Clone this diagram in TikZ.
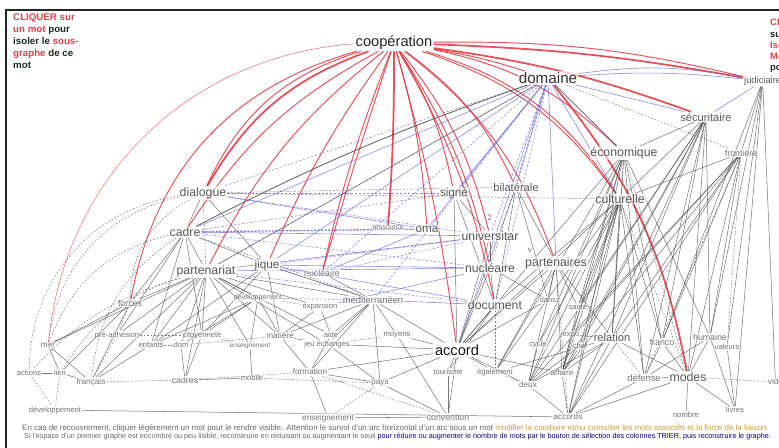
\documentclass[tikz,border=0pt]{standalone}
\usepackage{fontspec}
\setmainfont{Liberation Sans}
\definecolor{lred}{HTML}{E3303C}
\definecolor{lblue}{HTML}{6464D6}
\definecolor{lgray}{HTML}{4A4A4A}
\definecolor{txtred}{HTML}{E0404E}
\definecolor{txtdark}{HTML}{1E2A1E}
\pgfdeclarelayer{edges}
\pgfsetlayers{edges,main}
\tikzset{
  fs/.style={font=\fontsize{#1}{#1}\selectfont},
  lab/.style={text=black!65, fill=white, fill opacity=0.6, text opacity=1, inner sep=0.8pt},
  biglab/.style={text=black!80, fill=white, fill opacity=0.7, text opacity=1, inner sep=1pt},
  tiny/.style={text=black!55, inner sep=0.6pt, fill=white, fill opacity=0.4, text opacity=1},
  rl/.style={draw=lred, line width=0.8pt, draw opacity=0.85},
  rlt/.style={draw=lred, line width=1.5pt, draw opacity=0.85},
  rlf/.style={draw=lred, line width=0.45pt, draw opacity=0.7},
  bl/.style={draw=lblue, line width=0.5pt, draw opacity=0.75},
  bld/.style={draw=lblue, line width=0.5pt, draw opacity=0.75, dashed, dash pattern=on 2pt off 1.5pt},
  blt/.style={draw=lblue, line width=1.1pt, draw opacity=0.8, dash pattern=on 2pt off 1pt},
  gl/.style={draw=lgray, line width=0.45pt, draw opacity=0.75},
  glt/.style={draw=lgray, line width=0.8pt, draw opacity=0.8},
  gld/.style={draw=lgray, line width=0.45pt, draw opacity=0.7, dash pattern=on 1.5pt off 1.5pt},
}
\begin{document}
\begin{tikzpicture}[x=0.03cm, y=-0.03cm]
\useasboundingbox (0,0) rectangle (779,448);
\begin{scope}
\clip (0,0) rectangle (779,448);
% outer frame
\draw[line width=1.2pt, black!85] (6,10) rectangle (800,470);

% ---- words ----
\node[biglab, fs=12.5, text=black!85] (coop) at (394,43) {coopération};
\node[biglab, fs=13] (dom) at (548,78) {domaine};
\node[lab, fs=8, anchor=west] (judic) at (743,81) {judiciaire};
\node[lab, fs=9.5] (secu) at (706,117) {sécuritaire};
\node[lab, fs=10.5] (econ) at (624,153) {économique};
\node[tiny, fs=7.5] (front) at (741,153) {frontière};
\node[lab, fs=10.5] (dial) at (203,193) {dialogue};
\node[lab, fs=10] (signe) at (454,193) {signé};
\node[lab, fs=9.5] (bilat) at (516,187) {bilatérale};
\node[lab, fs=10.5] (cult) at (620,199) {culturelle};
\node[tiny, fs=7] (two) at (490,218) {2};
\node[tiny, fs=6] (ressrc) at (388,228) {ressource};
\node[lab, fs=10] (oma) at (427,229) {oma};
\node[lab, fs=10.5] (cadre) at (185,232) {cadre};
\node[lab, fs=10.5] (univ) at (490,236) {universitar};
\node[tiny, fs=7] (vv) at (530,250) {v};
\node[lab, fs=10.5] (part) at (206,271) {partenariat};
\node[lab, fs=10] (jique) at (267,265) {jique};
\node[lab, fs=10.5] (nucl) at (490,268) {nucléaire};
\node[lab, fs=10.5] (parts) at (556,263) {partenaires};
\node[tiny, fs=7.5] (milit) at (322,273) {nucléaire};
\node[tiny, fs=6] (dev) at (258,298) {développement};
\node[tiny, fs=8] (medit) at (373,300) {méditerranéen};
\node[tiny, fs=6.5] (expans) at (320,307) {expansion};
\node[tiny, fs=7.5] (forces) at (130,303) {forces};
\node[tiny, fs=6.5] (dans) at (548,300) {dans};
\node[tiny, fs=6.5] (sante) at (578,307) {santé};
\node[lab, fs=10.5] (doc) at (495,305) {document};
\node[tiny, fs=6.5] (preadh) at (117,335) {pré-adhésion};
\node[tiny, fs=6.5] (citoy) at (202,335) {citoyenneté};
\node[tiny, fs=7] (matiere) at (280,336) {matière};
\node[tiny, fs=6.5] (aide) at (331,335) {aide};
\node[tiny, fs=6.5] (moyens) at (397,335) {moyens};
\node[tiny, fs=6.5] (expo) at (571,335) {expo};
\node[lab, fs=9.5] (relation) at (612,338) {relation};
\node[tiny, fs=7.5] (franco) at (662,342) {franco};
\node[tiny, fs=7.5] (humaine) at (710,337) {humaine};
\node[tiny, fs=7] (mer) at (48,345) {mer};
\node[tiny, fs=6.5] (enfants) at (151,345) {enfants};
\node[tiny, fs=6.5] (domw) at (181,345) {dom};
\node[tiny, fs=5.5] (enseig) at (250,346) {enseignement};
\node[tiny, fs=6.5] (jeuech) at (327,344) {jeu échanges};
\node[tiny, fs=6.5] (cycle) at (538,345) {cycle};
\node[tiny, fs=6.5] (chef) at (580,346) {chef};
\node[tiny, fs=6.5] (valeurs) at (727,347) {valeurs};
\node[fs=12.5, text=black!90, fill=white, inner sep=1.5pt] (accord) at (457,350) {accord};
\node[tiny, fs=6.5] (actions) at (29,373) {actions};
\node[tiny, fs=6.5] (lien) at (60,373) {lien};
\node[tiny, fs=7] (formation) at (310,372) {formation};
\node[tiny, fs=6.5] (tourisme) at (448,372) {tourisme};
\node[tiny, fs=6.5] (egal) at (495,372) {également};
\node[tiny, fs=7] (affaire) at (562,373) {affaire};
\node[lab, fs=10.5] (modes) at (688,377) {modes};
\node[tiny, fs=8] (defense) at (644,378) {défense};
\node[tiny, fs=7.5] (cadres) at (185,380) {cadres};
\node[tiny, fs=6.5] (mobile) at (252,378) {mobile};
\node[tiny, fs=7] (francais) at (91,382) {français};
\node[tiny, fs=7] (pays) at (380,383) {pays};
\node[tiny, fs=7] (deux) at (528,385) {deux};
\node[tiny, fs=7, anchor=west] (vide) at (767,382) {vidé};
\node[tiny, fs=6.5] (devt) at (55,410) {développement};
\node[tiny, fs=6.5] (livres) at (735,410) {livres};
\node[tiny, fs=6.5] (nombre) at (686,415) {nombre};
\node[tiny, fs=7] (accords) at (568,417) {accords};
\node[tiny, fs=7.5] (convention) at (448,417) {convention};
\node[tiny, fs=7] (enseigb) at (328,418) {enseignement};

% ---- instructions ----
\node[anchor=north west, align=left, font=\bfseries\fontsize{8.3}{10.4}\selectfont, inner sep=0pt] (help) at (13,13)
  {\textcolor{txtred}{CLIQUER sur}\\
   \textcolor{txtred}{un mot} \textcolor{txtdark}{pour}\\
   \textcolor{txtdark}{isoler le} \textcolor{txtred}{sous-}\\
   \textcolor{txtred}{graphe} \textcolor{txtdark}{de ce}\\
   \textcolor{txtdark}{mot}};
\node[anchor=north west, align=left, font=\bfseries\fontsize{8}{9.6}\selectfont, inner sep=0pt] (helpb) at (770,19)
  {\textcolor{txtred}{CLIQUER}\\
   \textcolor{txtdark}{sur un}\\
   \textcolor{txtred}{Isoler}\\
   \textcolor{txtred}{Mot}\\
   \textcolor{txtdark}{pour}};
\node[anchor=west, inner sep=0pt, text=black!60] (notea) at (22,428)
  {\resizebox{22.4cm}{!}{\fontsize{5.6}{6}\selectfont En cas de recouvrement, cliquer légèrement un mot pour le rendre visible. Attention le survol d'un arc horizontal d'un arc sous un mot \textcolor{brown!80!yellow}{modifier la courbure et/ou consulter les mots associés et la force de la liaison.}}};
\node[anchor=west, inner sep=0pt, text=black!60] (noteb) at (24,437)
  {\resizebox{22.4cm}{!}{\fontsize{5.6}{6}\selectfont Si l'espace d'un premier graphe est encombré ou peu lisible, reconstruire en réduisant ou augmentant le seuil \textcolor{blue!50!black}{pour réduire ou augmenter le nombre de mots par le bouton de sélection des colonnes TRIER, puis reconstruire le graphe.}}};

\begin{pgfonlayer}{edges}
% red links of coopération, bending to the left
\draw[rlf] (coop) to[bend right=40] (mer);
\draw[rl] (coop) to[bend right=32] (forces);
\draw[rlt] (coop) to[bend right=20] (dial);
\draw[rl] (coop) to[bend right=24] (dial);
\draw[rl] (coop) to[bend right=14] (cadre);
\draw[rl] (coop) to[bend right=12] (part);
\draw[rl] (coop) to[bend right=6] (jique);
\draw[rl] (coop) to[bend right=4] (milit);
\draw[rl] (coop) to[bend right=1] (milit);
\draw[rlt] (coop) to[bend left=2] (ressrc);
% red links of coopération, bending to the right
\foreach \a/\c in {signe/10, oma/6, univ/12, bilat/14, nucl/10, parts/16, cult/18, econ/16, doc/9, accord/4}
  \draw[rl] (coop) to[bend left=\c] (\a);
\draw[rlt] (coop) to[bend left=6] (secu);
\draw[rlt] (coop) to[bend left=4] (judic);
\draw[rl] (coop) to[bend left=7] (judic);
\draw[rl] (coop) to[bend left=4] (dom);
\draw[rlt] (dom) to[bend left=14] (modes);
\draw[rl] (coop) to[bend left=20] (cult);

% blue links of domaine
\foreach \a in {cadre, signe, bilat, parts, cult, econ, secu, accord, jique, oma}
  \draw[bl] (dom) -- (\a);
\foreach \a in {part, univ, nucl, doc, milit, medit, dial}
  \draw[bld] (dom) -- (\a);
\draw[bl] (dom) to[bend left=5] (judic);
\draw[bl] (dom) to[bend left=9] (judic);
\draw[glt] (dom) to[bend right=4] (cadre);
\draw[gl] (dom) -- (part);
\draw[gld] (dom) -- (front);
\draw[gl] (dom) -- (econ);

% blue links among the middle words
\draw[blt] (cadre) -- (oma);
\foreach \a/\b in {cadre/univ, part/nucl, jique/nucl, medit/doc, dial/oma, expans/nucl, part/univ, milit/oma, jique/doc, judic/secu}
  \draw[bl] (\a) -- (\b);
\foreach \a/\b in {dial/signe, part/doc, jique/univ, dev/medit, milit/univ, cadre/nucl, jique/medit, dial/univ, cadre/signe}
  \draw[bld] (\a) -- (\b);

% grey network of the right side
\foreach \a/\b in {econ/relation, econ/franco, econ/defense, econ/affaire, econ/humaine, econ/accord,
  cult/relation, cult/defense, cult/affaire, cult/accords, cult/franco, cult/expo, cult/chef, cult/accord, cult/doc,
  secu/franco, secu/humaine, secu/modes, secu/relation, secu/defense, secu/cult, secu/econ,
  front/humaine, front/relation, front/modes, front/franco, front/cult,
  judic/valeurs, judic/humaine, judic/front,
  parts/relation, parts/affaire, parts/accord, parts/sante, parts/dans,
  bilat/doc, bilat/parts, bilat/accord, signe/accord, signe/doc, signe/univ,
  univ/accord, univ/nucl, nucl/doc, nucl/accord, nucl/dans, doc/accord, doc/tourisme,
  accord/moyens, accord/pays, accord/convention, accord/tourisme, accord/egal, accord/deux, accord/affaire, accord/jeuech,
  relation/accords, relation/affaire, relation/modes, modes/nombre, modes/livres, modes/defense, modes/accords,
  humaine/livres, humaine/modes, valeurs/livres, affaire/accords, deux/accords, defense/accords,
  expo/relation, chef/affaire, cycle/deux, econ/deux, front/affaire, secu/deux,
  secu/affaire, secu/accords, front/accords, front/deux, econ/accords, cult/deux, cult/egal, econ/egal,
  secu/chef, front/expo, judic/franco, humaine/defense, franco/defense, franco/modes, relation/deux,
  relation/egal, expo/affaire, chef/deux, parts/deux, parts/egal, dans/accord, sante/affaire,
  cult/sante, econ/sante, bilat/dans, secu/sante, cult/cycle, econ/cycle}
  \draw[gl] (\a) -- (\b);
\draw[gl] (judic) -- (vide);
\draw[gl] (judic) -- (livres);
\foreach \a/\b in {front/defense, front/valeurs, cult/modes, econ/modes, relation/defense, egal/deux, modes/vide, doc/egal, parts/accords, econ/relation}
  \draw[gld] (\a) -- (\b);

% grey network of the left side
\foreach \a/\b in {part/forces, part/preadh, part/enfants, part/domw, part/citoy, part/matiere, part/cadres, part/dev,
  part/expans, part/medit, dial/cadre, dial/jique, cadre/part, cadre/jique, cadre/forces,
  medit/accord, medit/matiere, medit/moyens, medit/aide, dev/matiere, dev/enseig, milit/medit, jique/medit,
  forces/mer, actions/lien, mer/lien, devt/accords, enseigb/convention, formation/pays, cadres/mobile,
  formation/matiere, formation/enseigb, pays/convention, tourisme/convention, accord/formation,
  citoy/cadres, domw/cadres, enfants/francais, jeuech/pays, aide/formation, moyens/convention,
  lien/francais, mer/francais, enseig/mobile, matiere/jeuech,
  part/mer, part/francais, part/enseig, part/jeuech, part/aide, forces/francais, forces/lien,
  dev/citoy, dev/domw, dev/enfants, jique/matiere, jique/citoy, jique/enfants, cadre/preadh,
  cadre/citoy, cadre/enfants, expans/matiere, expans/aide, medit/jeuech, medit/pays, medit/formation}
  \draw[gl] (\a) -- (\b);
\draw[gld] (dial) to[bend right=35] (mer);
\draw[gld] (dial) to[bend right=40] (actions);
\draw[gld] (cadre) to[bend right=25] (francais);
\draw[gld] (cadre) to[bend right=28] (mer);
\draw[gld] (part) to[bend right=20] (lien);
\draw[gld] (dial) to[bend right=30] (forces);
\draw[gld] (part) to[bend right=15] (actions);
\foreach \a/\b in {dial/part, dial/bilat, dial/cult, cadre/medit, lien/devt, actions/devt, preadh/citoy, enfants/domw,
  francais/cadres, cadres/formation, preadh/francais, mobile/pays, enseigb/pays, formation/convention, jeuech/moyens,
  citoy/enseig, domw/matiere, forces/preadh, dev/expans}
  \draw[gld] (\a) -- (\b);
\end{pgfonlayer}
\end{scope}
\end{tikzpicture}
\end{document}
